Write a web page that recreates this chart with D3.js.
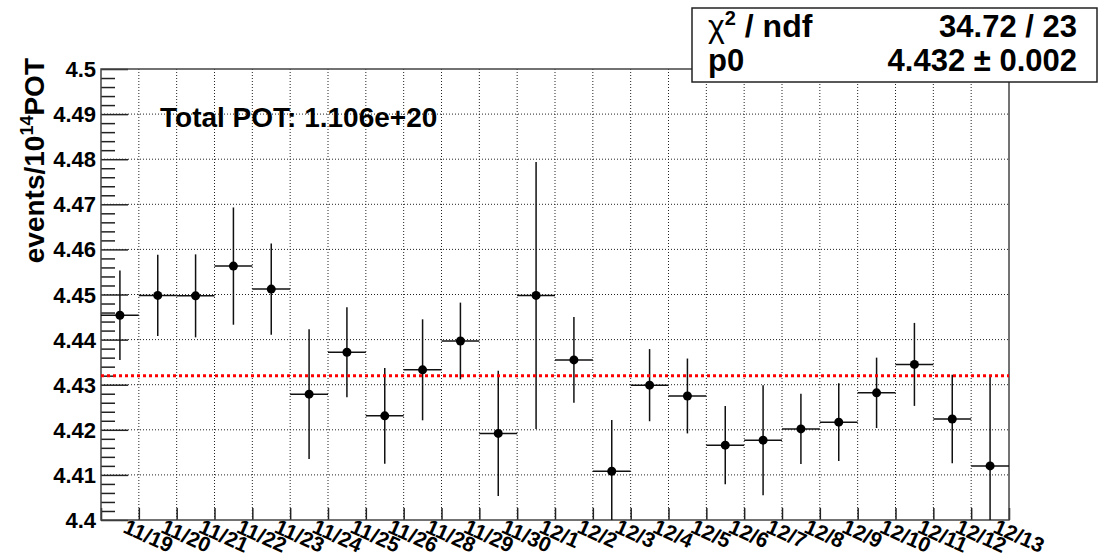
<!DOCTYPE html>
<html>
<head>
<meta charset="utf-8">
<script src="https://cdn.jsdelivr.net/npm/d3@7"></script>
<style>
  html, body { margin: 0; padding: 0; background: #fff; }
  svg { display: block; }
  text { font-family: "Liberation Sans", Arial, Helvetica, sans-serif; font-weight: bold; fill: #000; }
</style>
</head>
<body>
<svg id="chart" width="1098" height="559"></svg>
<script>
// Run dates (one bin per day)
const days = ["11/19","11/20","11/21","11/22","11/23","11/24","11/25","11/26","11/28","11/29","11/30",
              "12/1","12/2","12/3","12/4","12/5","12/6","12/7","12/8","12/9","12/10","12/11","12/12","12/13"];

// Events per 1e14 POT for each day, and their uncertainties
const rate = [4.4454, 4.4498, 4.4497, 4.4563, 4.4512, 4.4279, 4.4372, 4.4231, 4.4333, 4.4397, 4.4192, 4.4498,
              4.4355, 4.4108, 4.4299, 4.4275, 4.4166, 4.4177, 4.4202, 4.4217, 4.4282, 4.4345, 4.4224, 4.4120];
const rateErr = [0.0099, 0.0090, 0.0092, 0.0130, 0.0101, 0.0144, 0.0100, 0.0106, 0.0112, 0.0085, 0.0139, 0.0296,
                 0.0095, 0.0114, 0.0080, 0.0083, 0.0087, 0.0122, 0.0078, 0.0086, 0.0078, 0.0092, 0.0098, 0.0199];

// Y axis ticks and constant fit result
const yTicks = [4.40, 4.41, 4.42, 4.43, 4.44, 4.45, 4.46, 4.47, 4.48, 4.49, 4.50];
const yTickLabels = ["4.4","4.41","4.42","4.43","4.44","4.45","4.46","4.47","4.48","4.49","4.5"];
const fitP0 = 4.432;
const fitP0Err = 0.002;
const chi2 = 34.72;
const ndf = 23;
const totalPOT = "1.106e+20";

const svg = d3.select("#chart");
const frame = { left: 101, right: 1009, top: 69, bottom: 520 };

const x = d3.scaleLinear().domain([0, days.length]).range([frame.left, frame.right]);
const y = d3.scaleLinear().domain([4.40, 4.50]).range([frame.bottom, frame.top]);

// clip for marks inside the frame
svg.append("defs").append("clipPath").attr("id", "plotClip")
  .append("rect")
  .attr("x", frame.left).attr("y", frame.top)
  .attr("width", frame.right - frame.left).attr("height", frame.bottom - frame.top);

// dotted grid
const grid = svg.append("g").attr("stroke", "#222").attr("stroke-width", 1).attr("stroke-dasharray", "1,2");
grid.selectAll("line.v").data(d3.range(1, days.length)).join("line")
  .attr("x1", d => x(d)).attr("x2", d => x(d))
  .attr("y1", frame.top).attr("y2", frame.bottom);
grid.selectAll("line.h").data(yTicks.slice(1, -1)).join("line")
  .attr("x1", frame.left).attr("x2", frame.right)
  .attr("y1", d => y(d)).attr("y2", d => y(d));

// y axis: major ticks every 0.01, minor every 0.002, drawn inward
const minorTicks = d3.range(0, 51).map(i => 4.40 + i * 0.002).filter((d, i) => i % 5 !== 0);
const yAxisMajor = d3.axisRight(y).tickValues(yTicks).tickSize(27).tickFormat("");
const yAxisMinor = d3.axisRight(y).tickValues(minorTicks).tickSize(14).tickFormat("");
[yAxisMajor, yAxisMinor].forEach(ax => {
  const g = svg.append("g").attr("transform", `translate(${frame.left},0)`).call(ax);
  g.select(".domain").remove();
  g.selectAll(".tick line").attr("stroke", "#222").attr("stroke-width", 1.5);
});
svg.append("g").selectAll("text").data(yTicks).join("text")
  .attr("x", 96).attr("y", d => y(d) + 8)
  .attr("text-anchor", "end")
  .style("font-size", "22px")
  .text((d, i) => yTickLabels[i]);

// x axis: ticks at every bin edge, drawn upward
const xAxis = d3.axisTop(x).tickValues(d3.range(0, days.length + 1)).tickSize(12).tickFormat("");
const gx = svg.append("g").attr("transform", `translate(0,${frame.bottom})`).call(xAxis);
gx.select(".domain").remove();
gx.selectAll(".tick line").attr("stroke", "#222").attr("stroke-width", 1.5);

// rotated day labels at bin centres
svg.append("g").selectAll("text").data(days).join("text")
  .attr("transform", (d, i) => `translate(${x(i + 0.5) + 2},532) rotate(24)`)
  .attr("text-anchor", "start")
  .style("font-size", "21px")
  .text(d => d);

// frame
svg.append("rect")
  .attr("x", frame.left).attr("y", frame.top)
  .attr("width", frame.right - frame.left).attr("height", frame.bottom - frame.top)
  .attr("fill", "none").attr("stroke", "#444").attr("stroke-width", 1.5);

// data points with errors
const pts = svg.append("g").attr("clip-path", "url(#plotClip)");
pts.selectAll("line.xerr").data(rate).join("line")
  .attr("x1", (d, i) => x(i)).attr("x2", (d, i) => x(i + 1))
  .attr("y1", d => y(d)).attr("y2", d => y(d))
  .attr("stroke", "#111").attr("stroke-width", 1.5);
pts.selectAll("line.yerr").data(rate).join("line")
  .attr("x1", (d, i) => x(i + 0.5)).attr("x2", (d, i) => x(i + 0.5))
  .attr("y1", (d, i) => y(d + rateErr[i])).attr("y2", (d, i) => y(d - rateErr[i]))
  .attr("stroke", "#111").attr("stroke-width", 1.5);

// constant fit
svg.append("line")
  .attr("x1", x(0)).attr("x2", x(days.length))
  .attr("y1", y(fitP0)).attr("y2", y(fitP0))
  .attr("stroke", "#ff0000").attr("stroke-width", 3).attr("stroke-dasharray", "3,3")
  .attr("clip-path", "url(#plotClip)");

pts.selectAll("circle").data(rate).join("circle")
  .attr("cx", (d, i) => x(i + 0.5)).attr("cy", d => y(d))
  .attr("r", 4.5).attr("fill", "#000");

// y title
const yt = svg.append("text")
  .attr("transform", "translate(44,58) rotate(-90)")
  .attr("text-anchor", "end")
  .style("font-size", "28px");
yt.append("tspan").text("events/10");
yt.append("tspan").attr("dy", -11).style("font-size", "18px").text("14");
yt.append("tspan").attr("dy", 11).text("POT");

// total POT annotation
svg.append("text").attr("x", 160).attr("y", 127)
  .style("font-size", "28px")
  .text("Total POT: " + totalPOT);

// fit statistics box
const box = svg.append("g");
box.append("rect").attr("x", 692).attr("y", 8).attr("width", 405).attr("height", 74)
  .attr("fill", "#fff").attr("stroke", "#222").attr("stroke-width", 1.5);
const r1 = box.append("text").attr("x", 708).attr("y", 37).style("font-size", "32px");
r1.append("tspan").style("font-weight", "normal").text("χ");
r1.append("tspan").attr("dy", -12).style("font-size", "20px").text("2");
r1.append("tspan").attr("dy", 12).text(" / ndf");
box.append("text").attr("x", 1077).attr("y", 37).attr("text-anchor", "end")
  .style("font-size", "31px").text(`${chi2.toFixed(2)} / ${ndf}`);
box.append("text").attr("x", 708).attr("y", 71).style("font-size", "31px").text("p0");
box.append("text").attr("x", 1077).attr("y", 71).attr("text-anchor", "end")
  .style("font-size", "31px").text(`${fitP0.toFixed(3)} ± ${fitP0Err.toFixed(3)}`);
</script>
</body>
</html>
